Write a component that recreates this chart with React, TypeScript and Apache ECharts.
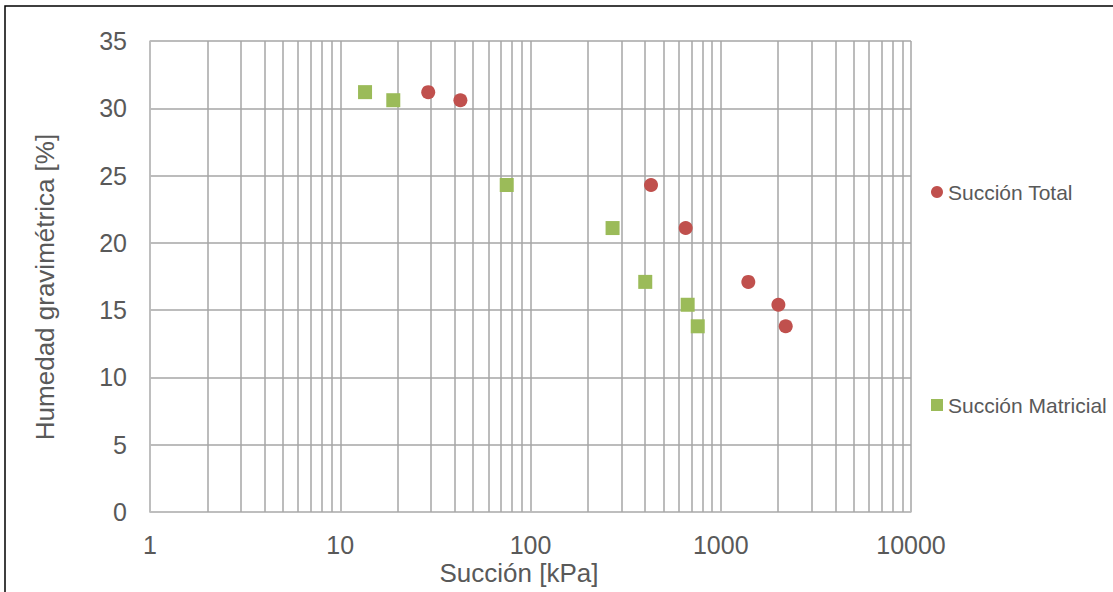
import React, { useEffect, useRef } from "react";
import * as echarts from "echarts";

const totalSuction = [29, 42.8, 430, 654, 1396, 2009, 2195];
const totalMoisture = [31.2, 30.6, 24.3, 21.1, 17.1, 15.4, 13.8];
const matricSuction = [13.5, 19, 75, 270, 401, 670, 757];
const matricMoisture = [31.2, 30.6, 24.3, 21.1, 17.1, 15.4, 13.8];
const minorGridValues = [
  2, 3, 4, 5, 6, 7, 8, 9,
  20, 30, 40, 50, 60, 70, 80, 90,
  200, 300, 400, 500, 600, 700, 800, 900,
  2000, 3000, 4000, 5000, 6000, 7000, 8000, 9000,
];
const seriesNames = ["Succión Total", "Succión Matricial"];

const FONT = "'Liberation Sans', Arial, sans-serif";
const TEXT = "#595959";
const GRID = "#A6A6A6";

export default function App() {
  const ref = useRef<HTMLDivElement>(null);
  useEffect(() => {
    document.body.style.margin = "0";
    const chart = echarts.init(ref.current!, null, { renderer: "svg" });
    chart.setOption({
      animation: false,
      backgroundColor: "#fff",
      grid: { left: 150, right: 202, top: 41, bottom: 80, containLabel: false },
      xAxis: {
        type: "log",
        logBase: 10,
        min: 1,
        max: 10000,
        axisLine: { show: true, lineStyle: { color: "#BFBFBF", width: 1.5 } },
        axisTick: { show: false },
        axisLabel: {
          fontSize: 25,
          color: TEXT,
          fontFamily: FONT,
          margin: 20,
          formatter: (v: number) => String(Math.round(v)),
        },
        splitLine: { show: true, lineStyle: { color: GRID, width: 1.5 } },
      },
      yAxis: {
        type: "value",
        min: 0,
        max: 35,
        interval: 5,
        axisLine: { show: true, lineStyle: { color: "#BFBFBF", width: 1.5 } },
        axisTick: { show: false },
        axisLabel: { fontSize: 25, color: TEXT, fontFamily: FONT, margin: 23 },
        splitLine: { show: true, lineStyle: { color: GRID, width: 1.5 } },
      },
      legend: [
        {
          data: [{ name: seriesNames[0], icon: "circle" }],
          left: 931,
          top: 180,
          padding: 0,
          itemWidth: 12,
          itemHeight: 12,
          textStyle: { fontSize: 21, color: TEXT, fontFamily: FONT, lineHeight: 24 },
        },
        {
          data: [{ name: seriesNames[1], icon: "rect" }],
          left: 931,
          top: 393,
          padding: 0,
          itemWidth: 12,
          itemHeight: 12,
          textStyle: { fontSize: 21, color: TEXT, fontFamily: FONT, lineHeight: 24 },
        },
      ],
      series: [
        {
          name: "minorGrid",
          type: "line",
          data: [[1, 0]],
          showSymbol: false,
          symbol: "none",
          silent: true,
          z: 1,
          lineStyle: { width: 0 },
          markLine: {
            silent: true,
            symbol: ["none", "none"],
            label: { show: false },
            lineStyle: { color: GRID, width: 1.5, type: "solid" },
            data: minorGridValues.map((v) => ({ xAxis: v })),
          },
        },
        {
          name: seriesNames[0],
          type: "scatter",
          symbol: "circle",
          symbolSize: 14,
          z: 5,
          itemStyle: { color: "#C0504D", opacity: 1 },
          data: totalSuction.map((x, i) => [x, totalMoisture[i]]),
        },
        {
          name: seriesNames[1],
          type: "scatter",
          symbol: "rect",
          symbolSize: 14,
          z: 5,
          itemStyle: { color: "#9BBB59", opacity: 1 },
          data: matricSuction.map((x, i) => [x, matricMoisture[i]]),
        },
      ],
      graphic: [
        {
          type: "rect",
          shape: { x: 5, y: 6, width: 1300, height: 800 },
          style: { fill: "none", stroke: "#000", lineWidth: 1.5 },
          silent: true,
        },
        {
          type: "text",
          x: 45,
          y: 287,
          rotation: Math.PI / 2,
          style: {
            text: "Humedad gravimétrica [%]",
            fontSize: 26,
            fontFamily: FONT,
            fill: TEXT,
            align: "center",
            verticalAlign: "middle",
          },
        },
        {
          type: "text",
          x: 519,
          y: 573,
          style: {
            text: "Succión [kPa]",
            fontSize: 26,
            fontFamily: FONT,
            fill: TEXT,
            align: "center",
            verticalAlign: "middle",
          },
        },
      ],
    });
    return () => chart.dispose();
  }, []);
  return <div ref={ref} style={{ width: 1113, height: 592 }} />;
}
